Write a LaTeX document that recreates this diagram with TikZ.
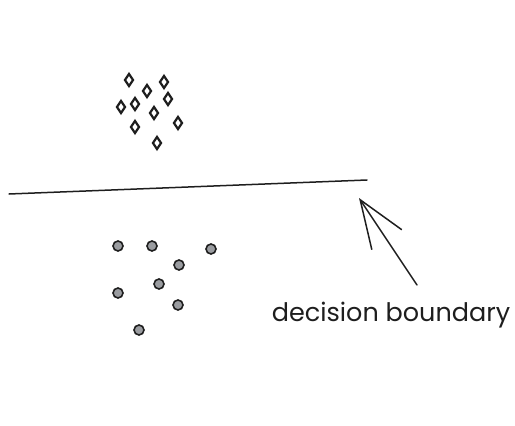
\documentclass[tikz,border=0pt]{standalone}
\usepackage{fontspec}
\setmainfont{Poppins}
\usepackage{tikz}
\usetikzlibrary{arrows.meta,positioning,shapes.geometric}
\definecolor{inkdark}{HTML}{1E1E1E}
\definecolor{dotgray}{HTML}{9A9CA0}
\tikzset{
    classa/.style={diamond, draw=inkdark, line width=2.2pt, fill=white,
        inner sep=0pt, minimum width=9pt, minimum height=13pt},
    classb/.style={circle, draw=inkdark, line width=1.6pt, fill=dotgray,
        inner sep=0pt, minimum size=10pt},
    boundary/.style={draw=inkdark, line width=1.5pt, line cap=round},
    pointer/.style={{Straight Barb[length=48pt,width=36pt,line width=1.5pt]}-,
        draw=inkdark, line width=1.5pt, line cap=round},
    label/.style={font=\fontsize{25.5}{30}\selectfont, text=inkdark, inner sep=0pt}
}
\begin{document}
\begin{tikzpicture}[x=1pt,y=-1pt]
        \useasboundingbox (0,0) rectangle (515,426);
        % diamonds above the boundary
        \node[classa] at (129,80) (a1) {};
        \node[classa] at (164,82) (a2) {};
        \node[classa] at (147,91) (a3) {};
        \node[classa] at (168,99) (a4) {};
        \node[classa] at (135,104) (a5) {};
        \node[classa] at (121,107) (a6) {};
        \node[classa] at (154,113) (a7) {};
        \node[classa] at (178,123) (a8) {};
        \node[classa] at (135,127) (a9) {};
        \node[classa] at (157,143) (a10) {};
        % dots below the boundary
        \node[classb] at (118,246) (b1) {};
        \node[classb] at (152,246) (b2) {};
        \node[classb] at (211,249) (b3) {};
        \node[classb] at (179,265) (b4) {};
        \node[classb] at (159,284) (b5) {};
        \node[classb] at (118,293) (b6) {};
        \node[classb] at (178,305) (b7) {};
        \node[classb] at (139,330) (b8) {};
        % the boundary and its label
        \coordinate (lineL) at (9,194);
        \coordinate (lineR) at (367,180);
        \draw[boundary] (lineL) -- (lineR);
        \node[label] at (391,315) (lbl) {decision boundary};
        \coordinate (tip) at (359,198);
        \coordinate (tail) at (417,285);
        \draw[pointer] (tip) -- (tail);
    \end{tikzpicture}
\end{document}
